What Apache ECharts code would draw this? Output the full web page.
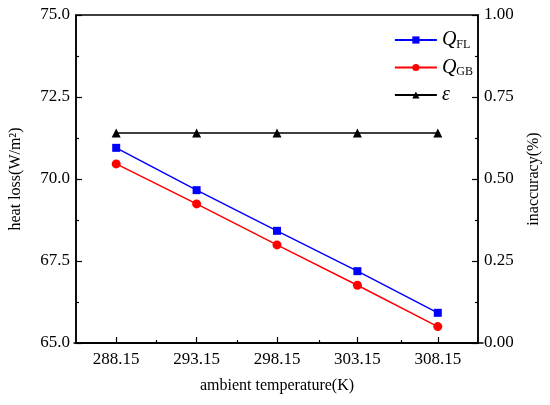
<!DOCTYPE html>
<html style="height: 100%">
<head>
<meta charset="utf-8">
<script src="https://cdn.jsdelivr.net/npm/echarts@6/dist/echarts.min.js"></script>
</head>
<body style="height: 100%; margin: 0; background: #fff;">
<div id="container" style="width: 550px; height: 405px"></div>
<script type="text/javascript">
var temps = [288.15, 293.15, 298.15, 303.15, 308.15];
var minorTemps = [290.65, 295.65, 300.65, 305.65];
var qFL = [70.95, 69.66, 68.42, 67.19, 65.92];
var qGB = [70.46, 69.24, 67.99, 66.76, 65.50];
var eps = [0.64, 0.64, 0.64, 0.64, 0.64];

var font = 'Liberation Serif';
var chart = echarts.init(document.getElementById('container'));

function pairs(ys) {
    return temps.map(function (t, i) { return [t, ys[i]]; });
}

var legendRich = {
    q: { fontFamily: font, fontStyle: 'italic', fontSize: 20, color: '#000' },
    s: { fontFamily: font, fontSize: 12, color: '#000', padding: [9, 0, 0, 0] }
};

var gridBox = { left: 74, right: 67, top: 15, bottom: 62 };

var option = {
    backgroundColor: '#fff',
    animation: false,
    grid: [
        Object.assign({ show: true, borderColor: '#000', borderWidth: 1.5 }, gridBox),
        Object.assign({}, gridBox)
    ],
    legend: {
        orient: 'vertical',
        right: 72,
        top: 25,
        itemWidth: 42,
        itemHeight: 9,
        itemGap: 7,
        data: ['FL', 'GB', 'eps'],
        formatter: function (name) {
            if (name === 'FL') return '{q|Q}{s|FL}';
            if (name === 'GB') return '{q|Q}{s|GB}';
            return '{q|ε}';
        },
        textStyle: { rich: legendRich, fontFamily: font }
    },
    xAxis: [{
        type: 'value',
        gridIndex: 0,
        min: 285.65, max: 310.65,
        name: 'ambient temperature(K)',
        nameLocation: 'middle',
        nameGap: 35,
        nameTextStyle: { fontFamily: font, fontSize: 16, color: '#000' },
        axisLine: { onZero: false, lineStyle: { color: '#000', width: 1.5 } },
        axisTick: { show: true, customValues: temps, inside: true, length: 6, lineStyle: { color: '#000', width: 1.2 } },
        axisLabel: {
            customValues: temps,
            fontFamily: font, fontSize: 17, color: '#000', margin: 8,
            formatter: function (v) { return v.toFixed(2); }
        },
        splitLine: { show: false }
    }, {
        // minor ticks halfway between the temperatures
        type: 'value',
        gridIndex: 1,
        min: 285.65, max: 310.65,
        position: 'bottom',
        axisLine: { show: true, onZero: false, lineStyle: { color: '#000', width: 1.5 } },
        axisTick: { show: true, customValues: minorTemps, inside: true, length: 3, lineStyle: { color: '#000', width: 1.2 } },
        axisLabel: { show: false },
        splitLine: { show: false }
    }],
    yAxis: [{
        type: 'value',
        gridIndex: 0,
        min: 65, max: 75, interval: 2.5,
        name: 'heat loss(W/m²)',
        nameLocation: 'middle',
        nameRotate: 90,
        nameGap: 52,
        nameTextStyle: { fontFamily: font, fontSize: 16, color: '#000' },
        axisLine: { show: true, lineStyle: { color: '#000', width: 1.5 } },
        axisTick: { show: true, inside: true, length: 6, lineStyle: { color: '#000', width: 1.2 } },
        minorTick: { show: true, splitNumber: 2, length: 3, lineStyle: { color: '#000', width: 1.2 } },
        splitLine: { show: false },
        axisLabel: {
            fontFamily: font, fontSize: 17, color: '#000', margin: 6,
            formatter: function (v) { return v.toFixed(1); }
        }
    }, {
        type: 'value',
        gridIndex: 0,
        position: 'right',
        min: 0, max: 1, interval: 0.25,
        name: 'inaccuracy(%)',
        nameLocation: 'middle',
        nameRotate: 90,
        nameGap: 48,
        nameTextStyle: { fontFamily: font, fontSize: 16, color: '#000' },
        axisLine: { show: true, lineStyle: { color: '#000', width: 1.5 } },
        axisTick: { show: true, inside: true, length: 6, lineStyle: { color: '#000', width: 1.2 } },
        minorTick: { show: true, splitNumber: 2, length: 3, lineStyle: { color: '#000', width: 1.2 } },
        splitLine: { show: false },
        axisLabel: {
            fontFamily: font, fontSize: 17, color: '#000', margin: 6,
            formatter: function (v) { return v.toFixed(2); }
        }
    }, {
        type: 'value',
        gridIndex: 1,
        min: 0, max: 1,
        axisLine: { show: false },
        axisTick: { show: false },
        axisLabel: { show: false },
        splitLine: { show: false }
    }],
    series: [{
        name: 'FL',
        type: 'line',
        data: pairs(qFL),
        symbol: 'rect',
        symbolSize: 8,
        itemStyle: { color: '#0000ff' },
        lineStyle: { color: '#0000ff', width: 1.5 }
    }, {
        name: 'GB',
        type: 'line',
        data: pairs(qGB),
        symbol: 'circle',
        symbolSize: 9,
        itemStyle: { color: '#ff0000' },
        lineStyle: { color: '#ff0000', width: 1.5 }
    }, {
        name: 'eps',
        type: 'line',
        yAxisIndex: 1,
        data: pairs(eps),
        symbol: 'triangle',
        symbolSize: 9,
        itemStyle: { color: '#000' },
        lineStyle: { color: '#000', width: 1.5 }
    }, {
        name: 'ticks',
        type: 'line',
        xAxisIndex: 1,
        yAxisIndex: 2,
        data: [],
        silent: true
    }]
};

chart.setOption(option);
</script>
</body>
</html>
